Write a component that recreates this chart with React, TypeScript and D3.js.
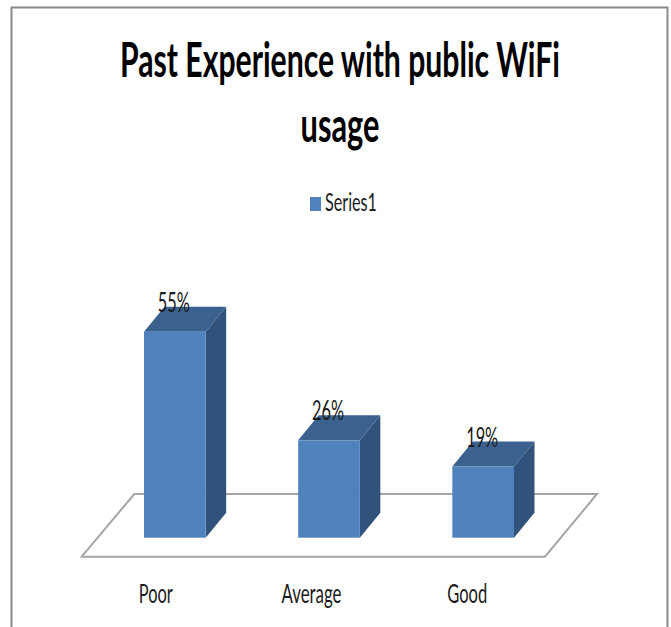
import React from "react";
import * as d3 from "d3";

const categories = ["Poor", "Average", "Good"];
const seriesValues = [55, 26, 19];
const seriesName = "Series1";
const titleLines = ["Past Experience with public WiFi", "usage"];

const WIDTH = 671;
const HEIGHT = 627;
const FONT = "Lato, 'Open Sans', sans-serif";

// Oblique offset of the 3D columns
const depthX = 20.5;
const depthY = 25;

const x = d3.scaleBand<string>().domain(categories).range([144, 514]).paddingInner(0.6).paddingOuter(0);
const y = d3.scaleLinear().domain([0, 55]).range([537.7, 331.7]);
const labelX = d3.scaleBand<string>().domain(categories).range([78, 545]).paddingInner(0).paddingOuter(0);

const floorPath = d3.line()([
  [81.7, 556.7],
  [134.3, 494],
  [597, 494],
  [545, 556.7],
]) + "Z";

// Text squeezed horizontally to a given width, keeping its full height
function FitText(props: { x: number; y: number; w: number; size: number; bold?: boolean; children: string }) {
  const fit = (el: SVGTextElement | null) => {
    if (!el) return;
    const natural = el.getComputedTextLength();
    if (natural > 0) {
      el.setAttribute("transform", `translate(${props.x},${props.y}) scale(${props.w / natural},1)`);
    }
  };
  return (
    <text
      ref={fit}
      transform={`translate(${props.x},${props.y})`}
      textAnchor="middle"
      fontFamily={FONT}
      fontWeight={props.bold ? 700 : 400}
      fontSize={props.size}
      fill={props.bold ? "#000" : "#1a1a1a"}
    >
      {props.children}
    </text>
  );
}

export default function App() {
  return (
    <svg
      width={WIDTH}
      height={HEIGHT}
      viewBox={`0 0 ${WIDTH} ${HEIGHT}`}
      style={{ position: "absolute", left: 0, top: 0, background: "#fff" }}
    >
      {/* chart frame, open at the bottom edge */}
      <path d={`M11.5 ${HEIGHT}V7.5H667.5V${HEIGHT}`} fill="none" stroke="#8a8a8a" strokeWidth={2} />

      <FitText x={340} y={77} w={440} size={48} bold>{titleLines[0]}</FitText>
      <FitText x={340} y={142} w={79} size={48} bold>{titleLines[1]}</FitText>

      <rect x={310} y={197} width={11} height={14} fill="#4f81bd" />
      <FitText x={351} y={211} w={52} size={26}>{seriesName}</FitText>

      <path d={floorPath} fill="#fff" stroke="#a6a6a6" strokeWidth={2} strokeLinejoin="miter" />

      {categories.map((c, i) => {
        const x0 = x(c)!;
        const x1 = x0 + x.bandwidth();
        const yTop = y(seriesValues[i]);
        const yBase = y(0);
        return (
          <g key={c}>
            <path
              d={d3.line()([[x1, yTop], [x1 + depthX, yTop - depthY], [x1 + depthX, yBase - depthY], [x1, yBase]]) + "Z"}
              fill="#31527a"
            />
            <path
              d={d3.line()([[x0, yTop], [x0 + depthX, yTop - depthY], [x1 + depthX, yTop - depthY], [x1, yTop]]) + "Z"}
              fill="#3b618f"
            />
            <rect x={x0} y={yTop} width={x.bandwidth()} height={yBase - yTop} fill="#4f81bd" />
            <FitText x={(x0 + x1) / 2 - 1} y={yTop - 20} w={32} size={26}>{`${seriesValues[i]}%`}</FitText>
          </g>
        );
      })}

      {categories.map((c, i) => (
        <FitText
          key={c}
          x={labelX(c)! + labelX.bandwidth() / 2}
          y={603}
          w={[34, 60, 40][i]}
          size={26}
        >
          {c}
        </FitText>
      ))}
    </svg>
  );
}
